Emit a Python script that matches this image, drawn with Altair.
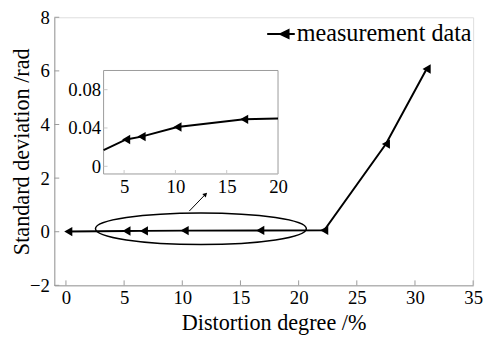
import altair as alt
import pandas as pd

# ---- data ----
x_vals = [0.2, 5.2, 6.7, 10.2, 16.7, 22.2, 27.5, 31.0]
y_vals = [0.005, 0.028, 0.031, 0.041, 0.049, 0.052, 3.27, 6.07]
series_name = "measurement data"

# where the curve meets the inset frame
inset_edge_x = [3, 20]
inset_edge_y = [0.017, 0.050]

x_ticks = [0, 5, 10, 15, 20, 25, 30, 35]
y_ticks = [-2, 0, 2, 4, 6, 8]
inset_x_ticks = [5, 10, 15, 20]
inset_y_ticks = [0, 0.04, 0.08]

ellipse_center = [11.6, 0.11]
arrow_x = [10.6, 12.0]
arrow_y = [0.77, 1.4]

W, H = 425, 272
FONT = "Times New Roman, Liberation Serif, serif"
GRAY = "#9a9a9a"
TICK_FS = 19
TITLE_FS = 22.5

main_x = alt.Scale(domain=[-1, 35], nice=False, zero=False)
main_y = alt.Scale(domain=[-2, 8], nice=False, zero=False)
# inset drawn inside the plot area (pixel range)
ins_x = alt.Scale(domain=[3, 20], range=[50, 227], nice=False, zero=False)
ins_y = alt.Scale(domain=[-0.008, 0.1], range=[159, 54], nice=False, zero=False)

df = pd.DataFrame({"x": x_vals, "y": y_vals, "series": [series_name] * len(x_vals)})

x_axis = alt.Axis(values=x_ticks, tickSize=0, grid=False, domainColor=GRAY, labelFlush=False,
                  labelFont=FONT, labelFontSize=TICK_FS, labelColor="black", labelPadding=3,
                  title="Distortion degree /%", titleFont=FONT, titleFontSize=TITLE_FS,
                  titleFontWeight="normal", titleColor="black",
                  titleX=W / 2 + 10, titleY=45, titleBaseline="alphabetic")
y_axis = alt.Axis(values=y_ticks, tickSize=0, grid=False, domainColor=GRAY, labelFlush=False,
                  labelFont=FONT, labelFontSize=TICK_FS, labelColor="black", labelPadding=5,
                  title="Standard deviation /rad", titleFont=FONT, titleFontSize=TITLE_FS,
                  titleFontWeight="normal", titleColor="black",
                  titleX=-33, titleY=H / 2, titleBaseline="middle")

line = alt.Chart(df).mark_line(strokeWidth=2).encode(
    x=alt.X("x:Q", scale=main_x, axis=x_axis),
    y=alt.Y("y:Q", scale=main_y, axis=y_axis),
    color=alt.Color("series:N", scale=alt.Scale(range=["black"]),
                    legend=alt.Legend(orient="none", legendX=215, legendY=2, title=None,
                                      padding=0, labelLimit=0,
                                      symbolType="M-1,0H1M-0.05,0L0.55,-0.28L0.55,0.28Z",
                                      symbolSize=784, symbolStrokeWidth=2,
                                      symbolStrokeColor="black", symbolFillColor="black",
                                      labelFont=FONT, labelFontSize=24.5, labelColor="black",
                                      labelOffset=1)),
)
pts = alt.Chart(df).mark_point(shape="triangle-left", filled=True, color="black",
                               size=90, opacity=1).encode(x="x:Q", y="y:Q")

xt = pd.DataFrame({"x": x_ticks})
yt = pd.DataFrame({"y": y_ticks})
xtick_rules = alt.Chart(xt).mark_rule(color=GRAY).encode(
    x="x:Q", y=alt.value(H), y2=alt.value(H - 5))
ytick_rules = alt.Chart(yt).mark_rule(color=GRAY).encode(
    y="y:Q", x=alt.value(0), x2=alt.value(5))

ellipse = alt.Chart(df.head(1)).mark_point(
    shape="M-1,0A1,0.15 0 1,0 1,0A1,0.15 0 1,0 -1,0Z",
    size=214 * 214, filled=False, color="black", strokeWidth=1.5, opacity=1).encode(
    x=alt.datum(ellipse_center[0]), y=alt.datum(ellipse_center[1]))

adf = pd.DataFrame({"x": arrow_x, "y": arrow_y})
arrow_line = alt.Chart(adf).mark_line(color="black", strokeWidth=1).encode(x="x:Q", y="y:Q")
arrow_head = alt.Chart(adf.tail(1)).mark_point(
    shape="triangle-up", angle=45, filled=True, color="black", size=25, opacity=1).encode(
    x="x:Q", y="y:Q")

main = alt.layer(line, ytick_rules, xtick_rules, ellipse, arrow_line, arrow_head, pts)

# ---- inset ----
frame_df = pd.DataFrame({"x": [inset_edge_x[0]], "x2": [inset_edge_x[1]],
                         "y": [-0.008], "y2": [0.1]})
in_df = df[(df.x >= inset_edge_x[0]) & (df.x <= inset_edge_x[1])][["x", "y"]]
in_line_df = pd.concat([pd.DataFrame({"x": inset_edge_x, "y": inset_edge_y}), in_df]).sort_values("x")

ix_axis = alt.Axis(orient="bottom", offset=-(H - 159), values=inset_x_ticks, tickSize=0,
                   domain=False, grid=False, labelFlush=False, labelFont=FONT,
                   labelFontSize=TICK_FS, labelColor="black", labelPadding=4, title=None)
iy_axis = alt.Axis(orient="left", offset=-50, values=inset_y_ticks, tickSize=0, format=".2~f",
                   domain=False, grid=False, labelFlush=False, labelFont=FONT,
                   labelFontSize=TICK_FS, labelColor="black", labelPadding=3, title=None)

frame = alt.Chart(frame_df).mark_rect(fill="white", stroke=GRAY, strokeWidth=1).encode(
    x=alt.X("x:Q", scale=ins_x, axis=ix_axis), x2="x2",
    y=alt.Y("y:Q", scale=ins_y, axis=iy_axis), y2="y2")
in_line = alt.Chart(in_line_df).mark_line(color="black", strokeWidth=2).encode(x="x:Q", y="y:Q")
in_pts = alt.Chart(in_df).mark_point(shape="triangle-left", filled=True, color="black",
                                     size=90, opacity=1).encode(x="x:Q", y="y:Q")
ixt = pd.DataFrame({"x": inset_x_ticks})
iyt = pd.DataFrame({"y": inset_y_ticks})
ix_rules = alt.Chart(ixt).mark_rule(color="#c8c8c8").encode(
    x="x:Q", y=alt.value(159), y2=alt.value(155))
iy_rules = alt.Chart(iyt).mark_rule(color="#c8c8c8").encode(
    y="y:Q", x=alt.value(50), x2=alt.value(54))

inset = alt.layer(frame, ix_rules, iy_rules, in_line, in_pts)

chart = alt.layer(main, inset).resolve_scale(x="independent", y="independent").properties(
    width=W, height=H,
    autosize=alt.AutoSizeParams(type="none"),
    padding={"left": 47, "top": 7, "right": 10, "bottom": 49},
).configure_view(stroke=GRAY, strokeWidth=1).configure(background="white")

chart.save("out.html", embed_options={"renderer": "svg", "actions": False})
